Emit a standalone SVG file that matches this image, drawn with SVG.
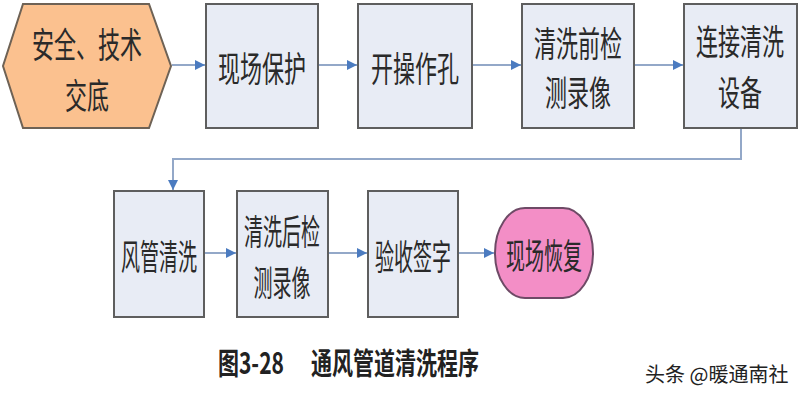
<svg xmlns="http://www.w3.org/2000/svg" width="800" height="400" viewBox="0 0 800 400">
<defs>
<style>
.box{fill:#e8ecf5;stroke:#5e5e5e;stroke-width:2}
.hex{fill:#fbc18f;stroke:#6e6255;stroke-width:2}
.term{fill:#f38ec6;stroke:#6e4a66;stroke-width:2}
.t{font-family:"Noto Sans CJK SC","Noto Sans",sans-serif;font-size:22px;fill:#2a2a2a;text-anchor:middle;dominant-baseline:central}
.s{font-size:19px}
.cap{font-family:"Noto Sans CJK SC","Noto Sans",sans-serif;font-size:21px;fill:#222;dominant-baseline:central;font-weight:bold}
.wm{font-family:"Noto Sans CJK SC","Noto Sans",sans-serif;font-size:20px;fill:#222;dominant-baseline:central}
.c{fill:none;stroke:#93a8c8;stroke-width:2}
</style>
<marker id="ah" viewBox="0 0 10 10" refX="10" refY="5" markerWidth="5" markerHeight="5" orient="auto" markerUnits="strokeWidth">
<path d="M0,0 L10,5 L0,10 Z" fill="#4b7bc0"/>
</marker>
</defs>
<rect width="800" height="400" fill="#ffffff"/>
<g id="connectors">
<path class="c" d="M172,65 H205" marker-end="url(#ah)"/>
<path class="c" d="M318,65 H357" marker-end="url(#ah)"/>
<path class="c" d="M472,65 H521" marker-end="url(#ah)"/>
<path class="c" d="M634,65 H683" marker-end="url(#ah)"/>
<path class="c" d="M741,128 V159 H173 V190" marker-end="url(#ah)"/>
<path class="c" d="M204,253 H236" marker-end="url(#ah)"/>
<path class="c" d="M328,253 H367" marker-end="url(#ah)"/>
<path class="c" d="M458,253 H494" marker-end="url(#ah)"/>
</g>
<g id="n1">
<polygon class="hex" points="3,66 23,4 149,4 171,66 149,128 23,128"/>
<text class="t" transform="translate(87,42) scale(1,1.6)">安全、技术</text>
<text class="t" transform="translate(87,93) scale(1,1.6)">交底</text>
</g>
<g id="n2">
<rect class="box" x="206" y="4" width="112" height="124"/>
<text class="t" transform="translate(262,66) scale(1,1.6)">现场保护</text>
</g>
<g id="n3">
<rect class="box" x="358" y="4" width="114" height="124"/>
<text class="t" transform="translate(415,66) scale(1,1.6)">开操作孔</text>
</g>
<g id="n4">
<rect class="box" x="522" y="4" width="112" height="124"/>
<text class="t" transform="translate(578,41) scale(1,1.6)">清洗前检</text>
<text class="t" transform="translate(578,90) scale(1,1.6)">测录像</text>
</g>
<g id="n5">
<rect class="box" x="684" y="4" width="113" height="124"/>
<text class="t" transform="translate(740,39) scale(1,1.6)">连接清洗</text>
<text class="t" transform="translate(740,90) scale(1,1.6)">设备</text>
</g>
<g id="n6">
<rect class="box" x="114" y="191" width="90" height="126"/>
<text class="t s" transform="translate(159,254) scale(1,1.85)">风管清洗</text>
</g>
<g id="n7">
<rect class="box" x="237" y="191" width="91" height="126"/>
<text class="t s" transform="translate(282,229) scale(1,1.85)">清洗后检</text>
<text class="t s" transform="translate(282,280) scale(1,1.85)">测录像</text>
</g>
<g id="n8">
<rect class="box" x="368" y="191" width="90" height="126"/>
<text class="t s" transform="translate(413,254) scale(1,1.85)">验收签字</text>
</g>
<g id="n9">
<rect class="term" x="495" y="208" width="98" height="90" rx="30" ry="45"/>
<text class="t s" transform="translate(544,253) scale(1,1.85)">现场恢复</text>
</g>
<g id="caption">
<text class="cap" transform="translate(218,361) scale(1,1.4)">图3-28</text>
<text class="cap" transform="translate(311,361) scale(1,1.4)">通风管道清洗程序</text>
</g>
<text class="wm" x="645" y="373">头条 @暖通南社</text>
</svg>
